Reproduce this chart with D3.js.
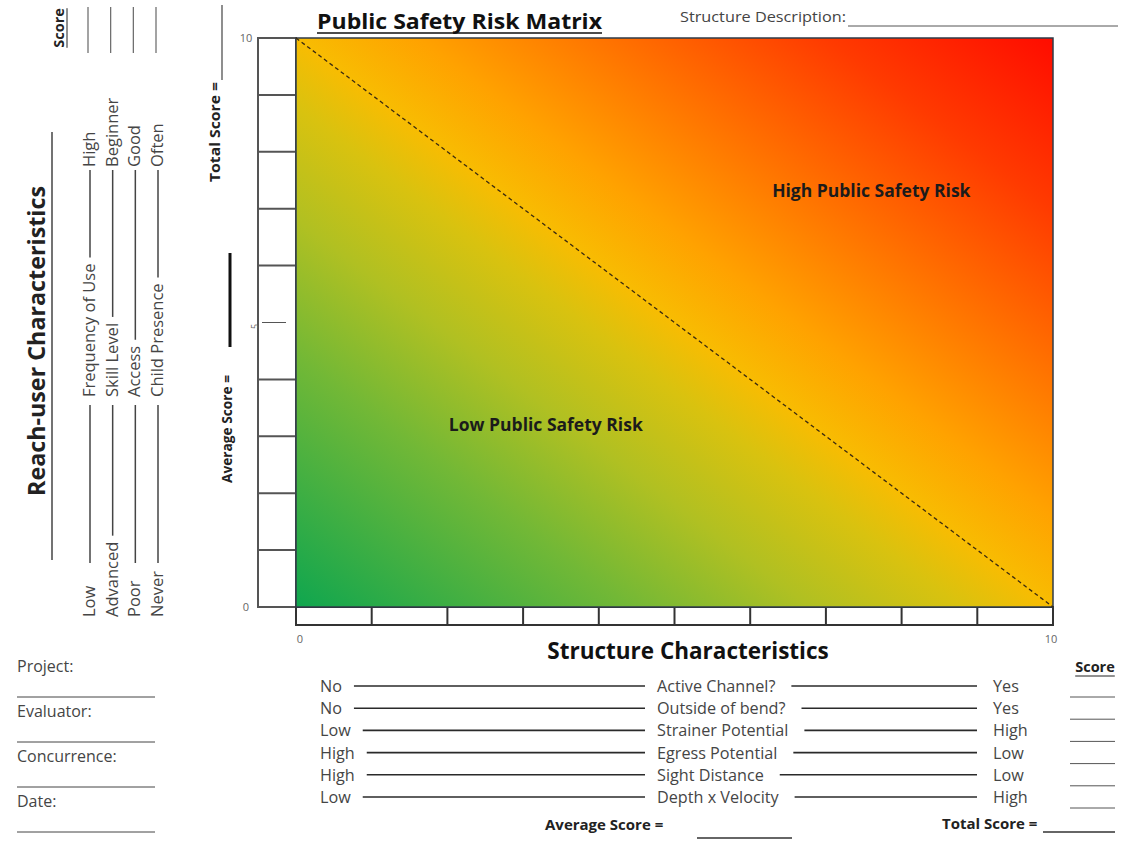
<!DOCTYPE html>
<html>
<head>
<meta charset="utf-8">
<script src="https://cdn.jsdelivr.net/npm/d3@7"></script>
<style>
  body { margin: 0; background: #fff; }
  text { font-family: "Open Sans", sans-serif; }
</style>
</head>
<body>
<script>
// axis values of the matrix
var axisMin = 0, axisMax = 10;
var rulerTicks = [1, 2, 3, 4, 5, 6, 7, 8, 9];
var yLabels = [0, 5, 10];
var xLabels = [0, 10];

// reach-user rows (left, rotated)
var reachFactors = ["Frequency of Use", "Skill Level", "Access", "Child Presence"];
var reachLow = ["Low", "Advanced", "Poor", "Never"];
var reachHigh = ["High", "Beginner", "Good", "Often"];

// structure rows (bottom)
var structFactors = ["Active Channel?", "Outside of bend?", "Strainer Potential", "Egress Potential", "Sight Distance", "Depth x Velocity"];
var structLow = ["No", "No", "Low", "High", "High", "Low"];
var structHigh = ["Yes", "Yes", "High", "Low", "Low", "High"];

var formFields = ["Project:", "Evaluator:", "Concurrence:", "Date:"];
var zoneLabels = ["Low Public Safety Risk", "High Public Safety Risk"];

// gradient colour stops, green (low) -> red (high)
var riskStops = [0, 0.22, 0.34, 0.44, 0.5, 0.58, 0.7, 0.85, 1];
var riskColors = ["#0fa64f", "#72b836", "#b0c022", "#d9c20f", "#f8bc02", "#ffa200", "#ff7400", "#ff3a00", "#ff0c00"];

var width = 1135, height = 841;

var svg = d3.select("body")
  .append("svg")
    .attr("width", width)
    .attr("height", height);

var x = d3.scaleLinear().domain([axisMin, axisMax]).range([296, 1053]);
var y = d3.scaleLinear().domain([axisMin, axisMax]).range([607, 38]);

var ink = "#333", grey = "#454545";

// gradient fill
var grad = svg.append("defs").append("linearGradient")
    .attr("id", "risk")
    .attr("x1", 0).attr("y1", 1).attr("x2", 1).attr("y2", 0);
grad.selectAll("stop")
  .data(riskStops)
  .enter().append("stop")
    .attr("offset", function(d) { return d; })
    .attr("stop-color", function(d, i) { return riskColors[i]; });

// left ruler
var rulerLeft = 258;
svg.append("rect")
    .attr("x", rulerLeft).attr("y", y(axisMax))
    .attr("width", x(axisMin) - rulerLeft).attr("height", y(axisMin) - y(axisMax))
    .attr("fill", "#fff").attr("stroke", "#555").attr("stroke-width", 2);
svg.append("g").selectAll("line")
  .data(rulerTicks)
  .enter().append("line")
    .attr("x1", function(d) { return d == 5 ? rulerLeft + 4 : rulerLeft; })
    .attr("x2", function(d) { return d == 5 ? x(axisMin) - 10 : x(axisMin); })
    .attr("y1", function(d) { return y(d); })
    .attr("y2", function(d) { return y(d); })
    .attr("stroke", "#555")
    .attr("stroke-width", function(d) { return d == 5 ? 1 : 2; });

// bottom ruler
var rulerBottom = 625;
svg.append("rect")
    .attr("x", x(axisMin)).attr("y", y(axisMin))
    .attr("width", x(axisMax) - x(axisMin)).attr("height", rulerBottom - y(axisMin))
    .attr("fill", "#fff").attr("stroke", ink).attr("stroke-width", 2);
svg.append("g").selectAll("line")
  .data(rulerTicks)
  .enter().append("line")
    .attr("x1", function(d) { return x(d); })
    .attr("x2", function(d) { return x(d); })
    .attr("y1", y(axisMin)).attr("y2", rulerBottom)
    .attr("stroke", ink).attr("stroke-width", 2);

// the matrix
svg.append("rect")
    .attr("x", x(axisMin)).attr("y", y(axisMax))
    .attr("width", x(axisMax) - x(axisMin)).attr("height", y(axisMin) - y(axisMax))
    .attr("fill", "url(#risk)")
    .attr("stroke", "#2f3b48").attr("stroke-width", 1.5);

svg.append("line")
    .attr("x1", x(axisMin)).attr("y1", y(axisMax))
    .attr("x2", x(axisMax)).attr("y2", y(axisMin))
    .attr("stroke", "#3a2a10").attr("stroke-width", 1.3)
    .attr("stroke-dasharray", "4,3");

svg.append("text")
    .attr("x", x(3.3)).attr("y", y(3.1))
    .attr("text-anchor", "middle")
    .style("font-size", "17.5px").style("font-weight", "bold").attr("fill", "#1b1b1b")
    .text(zoneLabels[0]);
svg.append("text")
    .attr("x", x(7.6)).attr("y", y(7.2))
    .attr("text-anchor", "middle")
    .style("font-size", "17.5px").style("font-weight", "bold").attr("fill", "#1b1b1b")
    .text(zoneLabels[1]);

// tick labels
svg.append("g").selectAll("text")
  .data(yLabels)
  .enter().append("text")
    .attr("transform", function(d) {
      var tx = d == 5 ? 258 : 246, ty = y(d) + 4;
      return "translate(" + tx + "," + ty + ")" + (d == 5 ? " rotate(-90)" : "");
    })
    .attr("text-anchor", "middle")
    .style("font-size", function(d) { return d == 5 ? "9px" : "11px"; })
    .attr("fill", "#666")
    .text(function(d) { return d; });
svg.append("g").selectAll("text")
  .data(xLabels)
  .enter().append("text")
    .attr("x", function(d) { return x(d) + (d == axisMin ? 4 : -2); })
    .attr("y", 643)
    .attr("text-anchor", "middle")
    .style("font-size", "11px")
    .attr("fill", "#666")
    .text(function(d) { return d; });

// helpers
function hline(x1, x2, yy, w, c) {
  svg.append("line").attr("x1", x1).attr("x2", x2).attr("y1", yy).attr("y2", yy)
    .attr("stroke", c || ink).attr("stroke-width", w || 1.5);
}
function vline(xx, y1, y2, w, c) {
  svg.append("line").attr("x1", xx).attr("x2", xx).attr("y1", y1).attr("y2", y2)
    .attr("stroke", c || ink).attr("stroke-width", w || 1.5);
}
function vtext(xx, yy, txt, anchor, size, bold, color) {
  return svg.append("text")
    .attr("transform", "translate(" + xx + "," + yy + ") rotate(-90)")
    .attr("text-anchor", anchor)
    .style("font-size", size + "px")
    .style("font-weight", bold ? "bold" : "normal")
    .attr("fill", color)
    .text(txt);
}

// title + description
var title = svg.append("text")
    .attr("x", 317).attr("y", 29)
    .style("font-size", "22px").style("font-weight", "bold").attr("fill", "#111")
    .attr("textLength", 285).attr("lengthAdjust", "spacingAndGlyphs")
    .text("Public Safety Risk Matrix");
hline(317, 602, 33, 1.5, "#111");

var desc = svg.append("text")
    .attr("x", 680).attr("y", 22)
    .style("font-size", "15px").attr("fill", "#444")
    .attr("textLength", 166).attr("lengthAdjust", "spacingAndGlyphs")
    .text("Structure Description:");
hline(848, 1118, 26, 1, "#555");

// left side: reach-user characteristics
vtext(45, 341, "Reach-user  Characteristics", "middle", 23, true, "#222")
    .attr("textLength", 310).attr("lengthAdjust", "spacingAndGlyphs");
vline(52, 132, 560, 1.5, "#444");

var sc = vtext(64, 28, "Score", "middle", 14.5, true, "#222");
var scw = sc.node().getComputedTextLength();
vline(67, 28 - scw / 2, 28 + scw / 2, 1, "#222");

var row = d3.scalePoint().domain(reachFactors).range([95, 163]);

reachFactors.forEach(function(f, i) {
  var bx = row(f);
  vline(bx - 7, 7, 53, 1.2, "#666");
  var lo = vtext(bx, 617, reachLow[i], "start", 16.5, false, grey);
  vline(bx - 5, Math.min(563, 617 - lo.node().getComputedTextLength() - 6), 405, 1.5, "#444");
  var mid = vtext(bx, 397, f, "start", 16.5, false, grey);
  vline(bx - 5, 397 - mid.node().getComputedTextLength() - 6, 170, 1.5, "#444");
  vtext(bx, 167, reachHigh[i], "start", 16.5, false, grey);
});

vtext(220, 132, "Total Score =", "middle", 15, true, "#222")
    .attr("textLength", 100).attr("lengthAdjust", "spacingAndGlyphs");
vline(222, 5, 80, 1.2, "#444");
vtext(232, 429, "Average Score =", "middle", 14.5, true, "#222")
    .attr("textLength", 108).attr("lengthAdjust", "spacingAndGlyphs");
vline(230, 253, 347, 3, "#111");

// bottom: structure characteristics
svg.append("text")
    .attr("x", 688).attr("y", 659)
    .attr("text-anchor", "middle")
    .style("font-size", "22.5px").style("font-weight", "bold").attr("fill", "#111")
    .text("Structure Characteristics");

var sc2 = svg.append("text")
    .attr("x", 1095).attr("y", 672)
    .attr("text-anchor", "middle")
    .style("font-size", "14.5px").style("font-weight", "bold").attr("fill", "#222")
    .text("Score");
var sw = sc2.node().getComputedTextLength();
hline(1095 - sw / 2, 1095 + sw / 2, 676, 1, "#222");

var srow = d3.scalePoint().domain(structFactors).range([692, 803]);

structFactors.forEach(function(f, i) {
  var by = srow(f);
  var lo = svg.append("text").attr("x", 320).attr("y", by)
    .style("font-size", "16.2px").attr("fill", grey).text(structLow[i]);
  hline(Math.max(320 + lo.node().getComputedTextLength() + 12, 352), 645, by - 6, 1.6, "#2a2a2a");
  var mid = svg.append("text").attr("x", 657).attr("y", by)
    .style("font-size", "16.2px").attr("fill", grey).text(f);
  hline(657 + mid.node().getComputedTextLength() + 16, 977, by - 6, 1.6, "#2a2a2a");
  svg.append("text").attr("x", 993).attr("y", by)
    .style("font-size", "16.2px").attr("fill", grey).text(structHigh[i]);
  hline(1070, 1115, by + 5, 1, "#555");
});

svg.append("text")
    .attr("x", 545).attr("y", 830)
    .style("font-size", "15px").style("font-weight", "bold").attr("fill", "#222")
    .text("Average Score =");
hline(697, 792, 838, 1.5, "#333");
svg.append("text")
    .attr("x", 942).attr("y", 829)
    .style("font-size", "15px").style("font-weight", "bold").attr("fill", "#222")
    .text("Total Score =");
hline(1043, 1115, 832, 1.5, "#333");

// project form, bottom left
var frow = d3.scalePoint().domain(formFields).range([672, 807]);
formFields.forEach(function(f) {
  svg.append("text").attr("x", 17).attr("y", frow(f))
    .style("font-size", "16px").attr("fill", grey).text(f);
  hline(17, 155, frow(f) + 25, 1, "#444");
});
</script>
</body>
</html>
